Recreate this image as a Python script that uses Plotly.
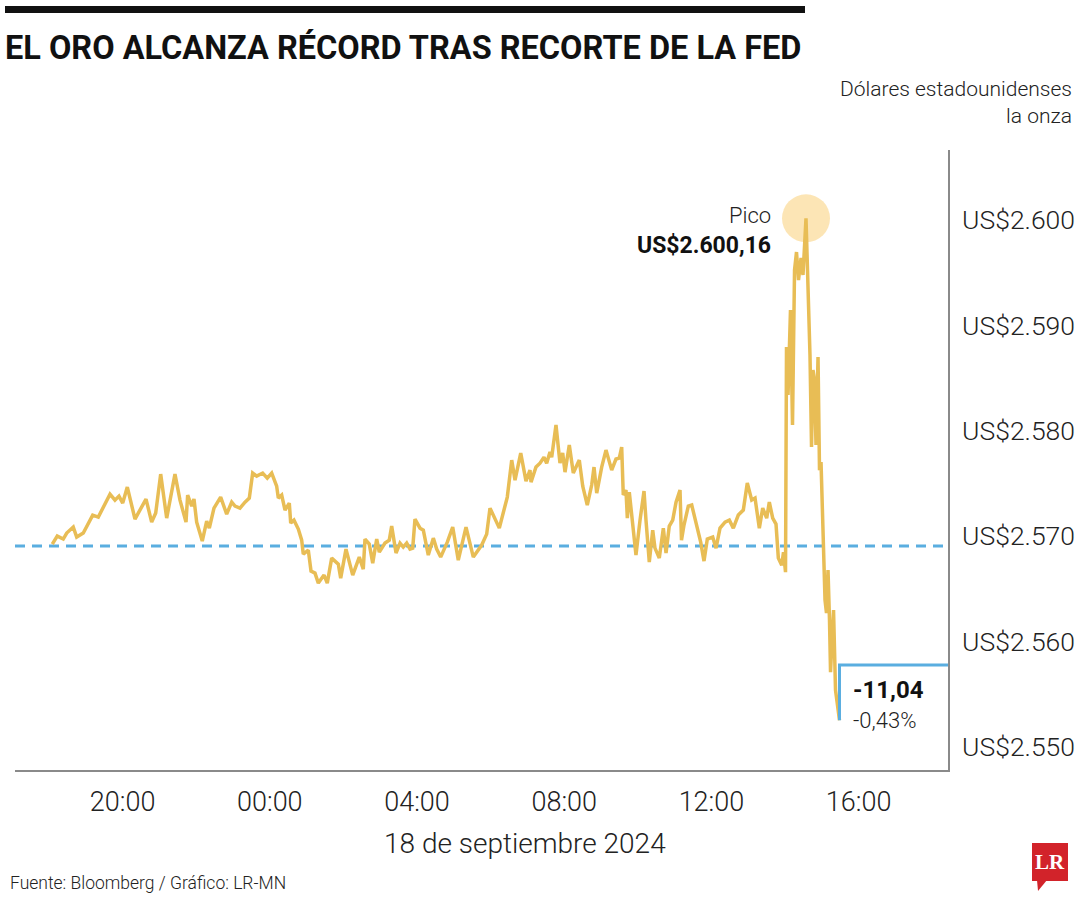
import pandas as pd
import plotly.graph_objects as go

# ---------------- data ----------------
# minutes elapsed since 2024-09-17 18:00 (market open)
minutes = [
    5.4, 13.5, 23.3, 28.9, 39.6, 45.2, 55.9, 71.3, 80.4, 99.5, 107.6, 114.1, 120.2, 127.7,
    140.2, 148.4, 158.2, 167.4, 174.0, 182.1, 191.9, 205.4, 213.6, 223.4, 226.1, 232.7,
    236.4, 240.8, 249.9, 257.1, 261.4, 269.0, 279.9, 289.7, 297.9, 303.3, 311.4,
    319.6, 326.6, 332.1, 338.6, 348.4, 355.9, 363.1, 371.2, 373.9, 379.4, 384.8, 391.8,
    394.1, 399.4, 406.5, 412.0, 414.6, 422.8, 427.2, 433.7, 439.1, 448.4, 453.7, 460.9,
    471.7, 475.6, 484.2, 495.2, 505.9, 512.4, 515.2, 522.2, 527.8, 534.3, 538.5, 547.8,
    554.8, 558.7, 565.8, 572.3, 577.6, 583.2, 588.6, 593.0, 596.7, 604.9, 610.3, 618.4,
    626.6, 632.1, 638.6, 649.4, 658.2, 667.3, 679.9, 691.8, 705.5, 713.6, 719.0, 734.2,
    747.2, 754.4, 759.8, 769.1, 777.7, 784.2, 785.9, 794.0, 800.5, 807.0, 811.4, 816.8,
    819.6, 826.6, 833.1, 837.5, 841.3, 848.3, 854.8, 864.6, 870.2, 877.6, 884.8, 888.6,
    893.0, 901.1, 908.1, 917.4, 924.4, 929.8,
    933.7, 936.3, 940.7, 942.9, 946.1, 951.7, 957.0, 963.6, 970.1, 973.3, 978.7, 984.3,
    988.0, 995.0, 1001.6, 1006.0, 1011.3, 1016.9, 1022.3, 1028.8, 1031.2, 1035.3, 1042.3,
    1047.9, 1054.9, 1062.5, 1067.9, 1073.3, 1082.1, 1087.5, 1094.0, 1102.2, 1109.2,
    1115.7, 1123.8, 1132.0, 1138.5, 1145.7, 1151.1, 1158.1, 1163.6, 1170.1, 1174.4,
    1179.9, 1185.3, 1189.1, 1194.6, 1197.5, 1200.8,
    1202.4, 1204.9, 1208.9, 1212.2, 1215.5, 1218.7, 1222.0, 1226.1, 1229.3, 1234.2,
    1238.3, 1240.7, 1243.2, 1245.6, 1248.1, 1250.5, 1253.8, 1256.2, 1258.7, 1261.1,
    1262.7, 1265.2, 1267.6, 1270.1, 1272.5, 1274.2, 1276.6, 1279.1, 1282.3, 1288.8,
]

# gold price, US$ per ounce
price = [
    2569.22, 2569.98, 2569.70, 2570.27, 2570.84, 2569.89, 2570.27, 2571.98, 2571.79, 2573.97,
    2573.40, 2573.78, 2573.12, 2574.64, 2571.60, 2572.45, 2573.50, 2571.31, 2572.17, 2575.87,
    2571.69, 2575.87, 2573.40, 2571.31, 2573.88, 2572.83, 2573.50, 2571.31, 2569.51, 2571.41,
    2570.74, 2572.64, 2573.69, 2572.07, 2573.21, 2572.83, 2572.64,
    2573.21, 2573.59, 2575.97, 2575.68, 2575.97, 2575.49, 2575.97, 2574.73, 2573.59, 2573.88,
    2572.45, 2573.12, 2571.22, 2571.50, 2570.65, 2569.60, 2568.27, 2568.65, 2566.66, 2566.47,
    2565.52, 2566.28, 2565.52, 2567.89, 2567.32, 2565.99, 2568.75, 2566.28, 2567.99, 2566.85,
    2569.70, 2569.22, 2567.42, 2569.70, 2568.46, 2569.32, 2569.60, 2570.93, 2568.37, 2569.32,
    2568.94, 2569.32, 2568.75, 2568.84, 2571.60, 2570.74, 2570.55, 2568.18,
    2569.79, 2568.75, 2567.99, 2569.41, 2570.84, 2567.70, 2570.84, 2567.99, 2569.13, 2570.17,
    2572.64, 2570.74, 2573.69, 2577.20, 2575.30, 2577.87, 2575.20, 2576.25, 2575.11, 2576.54,
    2576.91, 2577.48, 2576.91, 2577.96, 2577.48, 2580.53, 2576.91, 2577.87, 2576.06, 2578.63,
    2575.97, 2577.20, 2574.73, 2572.93, 2574.83, 2576.54, 2574.07, 2576.54, 2578.15, 2576.25,
    2577.30, 2577.39,
    2578.44, 2573.88, 2574.35, 2571.69, 2574.16, 2570.74, 2568.18, 2571.50, 2574.26, 2571.50,
    2567.51, 2570.55, 2568.84, 2567.89, 2570.74, 2568.37, 2570.93, 2571.50, 2573.21, 2574.35,
    2569.60, 2571.03, 2572.83, 2572.93, 2571.31, 2569.41, 2567.61, 2569.70, 2569.89, 2568.84,
    2570.74, 2571.31, 2571.50, 2570.74, 2571.98, 2572.45, 2575.02, 2573.40, 2573.59, 2570.74,
    2572.64, 2571.69, 2573.21, 2571.69, 2571.12, 2567.89, 2567.22, 2568.46, 2566.56,
    2587.94, 2583.38, 2591.45, 2580.53, 2595.25, 2596.96, 2594.30, 2596.39, 2594.78, 2600.16,
    2592.40, 2587.18, 2578.44, 2585.75, 2584.80, 2578.63, 2586.99, 2576.25, 2577.01, 2571.50,
    2567.70, 2563.90, 2562.67, 2566.75, 2562.00, 2557.06, 2560.10, 2562.95, 2555.35, 2552.50,
]

prev_close = 2569.04          # dashed reference line
bracket_level = 2557.74       # level of the blue change bracket
peak_price = 2600.16
peak_minute = 1234.2

y_tick_vals = [2550, 2560, 2570, 2580, 2590, 2600]
y_tick_text = ["US$2.550", "US$2.560", "US$2.570", "US$2.580", "US$2.590", "US$2.600"]
x_tick_vals = ["2024-09-17 20:00", "2024-09-18 00:00", "2024-09-18 04:00",
               "2024-09-18 08:00", "2024-09-18 12:00", "2024-09-18 16:00"]
x_tick_text = ["20:00", "00:00", "04:00", "08:00", "12:00", "16:00"]

title = "EL ORO ALCANZA RÉCORD TRAS RECORTE DE LA FED"
unit_label = "Dólares estadounidenses<br>la onza"
x_title = "18 de septiembre 2024"
source = "Fuente: Bloomberg / Gráfico: LR-MN"
peak_label = "Pico"
peak_value_label = "US$2.600,16"
change_abs = "-11,04"
change_pct = "-0,43%"

# ---------------- figure ----------------
base = pd.Timestamp("2024-09-17 18:00")
times = base + pd.to_timedelta(minutes, unit="min")
peak_time = base + pd.to_timedelta(peak_minute, unit="min")
x_start = pd.Timestamp("2024-09-17 17:04:36")
x_end = pd.Timestamp("2024-09-18 18:25:42")

W, H = 1080, 900
L, R, T, B = 15, 948, 150, 770


def px(x):
    return (x - L) / (R - L)


def py(y):
    return (B - y) / (B - T)


FONT = "Roboto, sans-serif"
GOLD = "#e8bd55"
BLUE = "#5aaee0"


def light(size, color="#222"):
    return dict(size=size, color=color, family=FONT, weight=300)


def bold(size, color="#111"):
    return dict(size=size, color=color, family=FONT, weight=700)


fig = go.Figure()

# peak highlight circle
fig.add_trace(go.Scatter(
    x=[peak_time], y=[peak_price], mode="markers",
    marker=dict(size=48, color="rgba(250,208,120,0.55)", line=dict(width=0)),
    hoverinfo="skip", showlegend=False))

# previous close dashed line
fig.add_trace(go.Scatter(
    x=[x_start, x_end], y=[prev_close, prev_close], mode="lines",
    line=dict(color=BLUE, width=3, dash="10px,7px"),
    hoverinfo="skip", showlegend=False))

# gold price line
fig.add_trace(go.Scatter(
    x=times, y=price, mode="lines",
    line=dict(color=GOLD, width=3.5), showlegend=False))

# change bracket
fig.add_trace(go.Scatter(
    x=[times[-1], times[-1], x_end], y=[price[-1], bracket_level, bracket_level],
    mode="lines", line=dict(color=BLUE, width=3), hoverinfo="skip", showlegend=False))

fig.update_layout(
    width=W, height=H,
    margin=dict(l=L, r=W - R, t=T, b=H - B, autoexpand=False),
    paper_bgcolor="white", plot_bgcolor="white",
    font=dict(family=FONT, color="#222"),
    xaxis=dict(
        type="date", range=[x_start, x_end], automargin=False,
        tickvals=x_tick_vals, ticktext=x_tick_text,
        showgrid=False, zeroline=False,
        showline=True, linecolor="#8a8a8a", linewidth=1.5,
        ticks="", ticklabelstandoff=7,
        tickfont=light(27)),
    yaxis=dict(
        range=[2547.77, 2606.65], side="right", automargin=False,
        tickvals=y_tick_vals, ticktext=y_tick_text,
        showgrid=False, zeroline=False,
        showline=True, linecolor="#8a8a8a", linewidth=1.5,
        ticks="", ticklabelstandoff=7,
        tickfont=light(26.5)),
    showlegend=False,
)

shapes = [
    # top black bar
    dict(type="rect", xref="paper", yref="paper",
         x0=px(5), x1=px(805), y0=py(13), y1=py(6),
         fillcolor="#111", line=dict(width=0)),
    # LR logo box
    dict(type="rect", xref="paper", yref="paper",
         x0=px(1032), x1=px(1068), y0=py(881), y1=py(843),
         fillcolor="#d2232a", line=dict(width=0)),
    dict(type="path", xref="paper", yref="paper",
         path=f"M {px(1037)} {py(880)} L {px(1047)} {py(880)} L {px(1038)} {py(891)} Z",
         fillcolor="#d2232a", line=dict(width=0)),
]
fig.update_layout(shapes=shapes)

annotations = [
    dict(text=f"<b>{title}</b>", x=px(3), y=py(47), xanchor="left", yanchor="middle",
         font=bold(32.5)),
    dict(text=unit_label, x=px(1074), y=py(103), xanchor="right", yanchor="middle",
         align="right", font=light(21)),
    dict(text=x_title, x=px(525), y=py(843), xanchor="center", yanchor="middle",
         font=light(28)),
    dict(text=source, x=px(8), y=py(883), xanchor="left", yanchor="middle",
         font=light(17.5)),
    dict(text="<b>LR</b>", x=px(1050), y=py(862), xanchor="center", yanchor="middle",
         font=dict(size=21, color="white", family="Liberation Serif, DejaVu Serif, serif")),
    dict(text=peak_label, x=px(773), y=py(215), xanchor="right", yanchor="middle",
         font=light(22)),
    dict(text=f"<b>{peak_value_label}</b>", x=px(773), y=py(246), xanchor="right",
         yanchor="middle", font=bold(23)),
    dict(text=f"<b>{change_abs}</b>", x=px(851), y=py(690), xanchor="left",
         yanchor="middle", font=bold(24)),
    dict(text=change_pct, x=px(851), y=py(720), xanchor="left", yanchor="middle",
         font=light(22)),
]
for a in annotations:
    a.update(xref="paper", yref="paper", showarrow=False)
fig.update_layout(annotations=annotations)

fig.write_html("out.html")
